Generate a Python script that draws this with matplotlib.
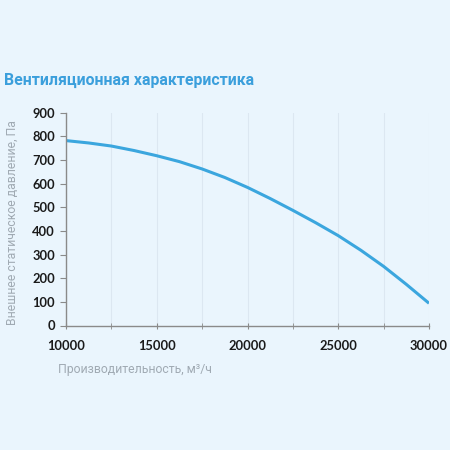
import matplotlib
matplotlib.use("Agg")
import matplotlib.pyplot as plt
from matplotlib.ticker import MultipleLocator

flow = [10000, 11250, 12500, 13750, 15000, 16250, 17500, 18750, 20000,
        21250, 22500, 23750, 25000, 26250, 27500, 28750, 30000]
pressure = [782, 772, 759, 740, 718, 693, 662, 626, 584,
            537, 487, 435, 380, 318, 250, 174, 94]
x_ticks = [10000, 15000, 20000, 25000, 30000]
y_ticks = [0, 100, 200, 300, 400, 500, 600, 700, 800, 900]

title = "Вентиляционная характеристика"
xlabel = "Производительность, м³/ч"
ylabel = "Внешнее статическое давление, Па"

bg = "#eaf5fd"
line_c = "#3ba6de"

fig = plt.figure(figsize=(4.5, 4.5), dpi=100, facecolor=bg)
ax = fig.add_axes([66/450, 1-325.5/450, (429-66)/450, (325.5-112.7)/450])
ax.set_facecolor(bg)
ax.plot(flow, pressure, color=line_c, lw=2.2, solid_capstyle="butt",
        solid_joinstyle="round")
ax.set_xlim(10000, 30000)
ax.set_ylim(0, 900)
ax.set_xticks(x_ticks)
ax.xaxis.set_minor_locator(MultipleLocator(2500))
ax.set_yticks(y_ticks)
ax.grid(True, axis="x", which="both", color="#dce7f1", lw=0.8)
for s in ["top", "right"]:
    ax.spines[s].set_visible(False)
for s in ["left", "bottom"]:
    ax.spines[s].set_color("#8a8a8a")
    ax.spines[s].set_linewidth(1.0)
ax.tick_params(axis="y", length=4, color="#8a8a8a", pad=4,
               labelsize=9.3, labelcolor="#1a1a1a")
ax.tick_params(axis="x", which="both", length=5, direction="inout", color="#8a8a8a",
               pad=8, labelsize=9.3, labelcolor="#1a1a1a")
for lab in ax.get_xticklabels() + ax.get_yticklabels():
    lab.set_fontfamily("Lato")
    lab.set_fontweight("bold")

fig.text(4/450, 1-80.5/450, title, family="Roboto", weight="bold",
         fontsize=11.4, color="#3b9fdc", va="center", ha="left")
fig.text(134.5/450, 1-370/450, xlabel, family="Roboto", fontsize=8.8,
         color="#a0aab3", ha="center", va="center")
fig.text(12/450, 1-223/450, ylabel, family="Roboto", fontsize=8.8,
         color="#a0aab3", ha="center", va="center", rotation=90)

fig.savefig("out.png", dpi=100, facecolor=bg)
